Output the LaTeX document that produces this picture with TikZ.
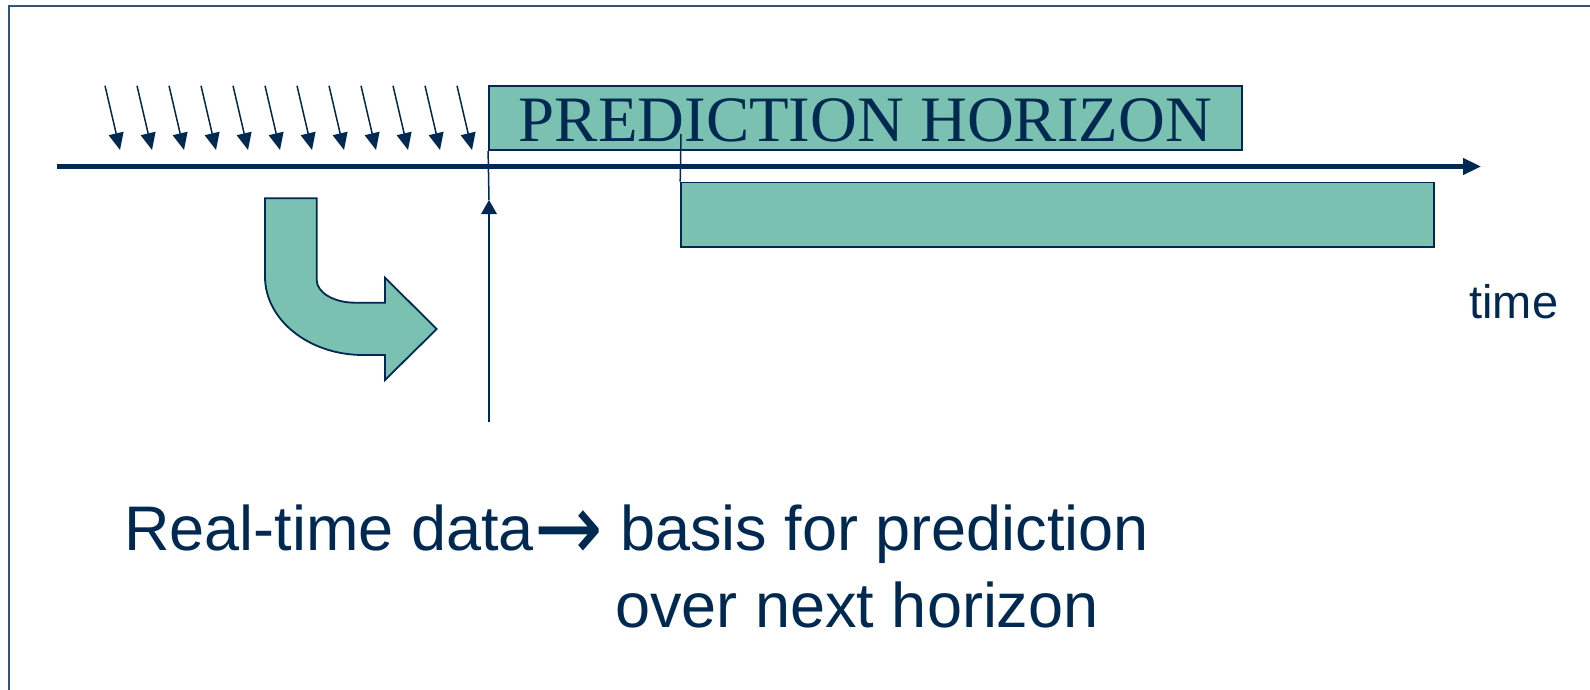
\documentclass[tikz,border=0pt]{standalone}
\usepackage{fontspec}
\setmainfont{Liberation Sans}
\newfontfamily\titlefont{Liberation Serif}
\newfontfamily\dejavu{DejaVu Sans}
\usetikzlibrary{arrows.meta}
\definecolor{ink}{RGB}{0,41,82}
\definecolor{horizonfill}{RGB}{122,193,177}
\begin{document}
\begin{tikzpicture}[x=0.5pt,y=-0.5pt]
  \tikzstyle{box} = [draw=ink, line width=0.9pt, fill=horizonfill, inner sep=0pt, minimum width=376.4pt, minimum height=32.2pt]
  \tikzstyle{tick} = [draw=ink, line width=0.75pt, -{Triangle[length=8.5pt,width=7.5pt]}]
  \tikzstyle{axis} = [draw=ink, line width=2.5pt, -{Triangle[length=9pt,width=8pt]}]
  \tikzstyle{txt} = [inner sep=0pt, anchor=base west, text=ink]
  \useasboundingbox (0,0) rectangle (1590,690);
  % frame
  \draw[ink!80, line width=1pt] (9,690) -- (9,6.3) -- (1590,6.3);
  % time axis
  \coordinate (t0) at (57,166.5);
  \coordinate (t1) at (1481,166.5);
  \draw[axis] (t0) -- (t1);
  % incoming data
  \foreach \i in {0,...,11}
    \draw[tick] ({105+32*\i},85.7) -- ({120+32*\i},150);
  % horizons
  \node[box, font=\titlefont\fontsize{32.4}{38}\selectfont, text=ink, text height=23.7pt, text depth=0pt] (upper) at (865.4,118) {PREDICTION HORIZON};
  \node[box] (lower) at (1057.5,214.7) {};
  \coordinate (now) at (489,422);
  \coordinate (nowtip) at (489,200);
  \draw[ink, line width=0.75pt, -{Triangle[length=7pt,width=7.8pt]}] (now) -- (nowtip);
  \draw[ink, line width=0.75pt] (nowtip) -- (upper.south west);
  \coordinate (next) at (681,134);
  \draw[ink, line width=0.75pt] (next) -- (lower.north west);
  % bent arrow
  \draw[ink, line width=0.9pt, fill=horizonfill, line join=miter]
    (265,198.3) -- (265,276.7) .. controls (265,319.8) and (308.9,355) .. (363,355)
    -- (385,355) -- (385,380) -- (436.7,329) -- (385,277.7) -- (385,302.7) -- (355,302.7)
    .. controls (333.9,302.7) and (316.7,292.5) .. (316.7,280) -- (316.7,198.3) -- cycle;
  % labels
  \node[txt, font=\fontsize{23.5}{28}\selectfont] (time) at (1469,318) {time};
  \node[txt, font=\fontsize{31.5}{38}\selectfont] (basis) at (124,550) {Real-time data{\dejavu\raisebox{-5pt}{\scalebox{1.3}[1.5]{→}}} basis for prediction};
  \node[txt, font=\fontsize{31.5}{38}\selectfont] (over) at (615,627) {over next horizon};
\end{tikzpicture}
\end{document}
